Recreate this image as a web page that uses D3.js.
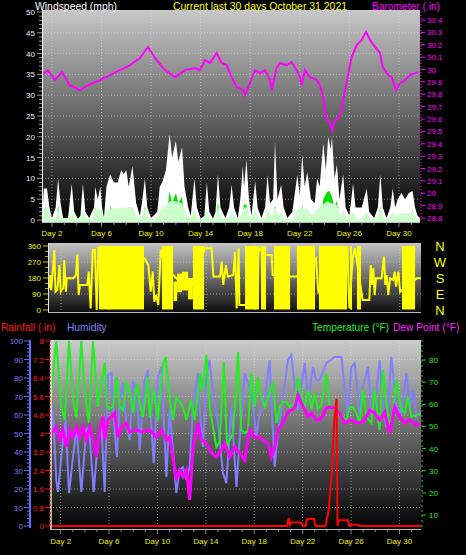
<!DOCTYPE html>
<html><head><meta charset="utf-8">
<script src="https://cdn.jsdelivr.net/npm/d3@7"></script>
<style>body{margin:0;background:#000}svg{display:block}text{font-family:"Liberation Sans",Arial,sans-serif}</style>
</head><body><svg id="c" width="466" height="555"></svg>
<script>
// ---------- DATA ----------
const dayTicks = [2,6,10,14,18,22,26,30];
const windTicks = [0,5,10,15,20,25,30,35,40,45,50];
const baroTicks = [28.8,28.9,29.0,29.1,29.2,29.3,29.4,29.5,29.6,29.7,29.8,29.9,30.0,30.1,30.2,30.3,30.4];
const dirTicks = [0,90,180,270,360];
const compass = ["N","W","S","E","N"];
const humTicks = [0,10,20,30,40,50,60,70,80,90,100];
const rainTicks = [0,0.8,1.6,2.4,3.2,4,4.8,5.6,6.4,7.2,8];
const tempTicks = [10,20,30,40,50,60,70,80];

// wind gust (mph) [day, value]
const gust = [[1.2,0],[1.35,7.6],[1.6,7.6],[1.8,3],[2.0,0.5],[2.3,3],[2.5,10],[2.7,4],[2.9,0.5],[3.3,0.5],[3.6,8.7],[3.8,2],[4.1,0.3],[4.3,1],[4.5,8.7],[4.7,2],[5.0,0.5],[5.4,3],[5.5,8],[5.7,5],[5.9,8],[6.05,3],[6.2,0.5],[6.4,8],[6.7,11],[7.0,9],[7.3,9],[7.6,12],[7.8,11],[8.0,12],[8.2,8],[8.5,13],[8.8,4],[9.1,1],[9.3,5],[9.5,10],[9.7,3],[10.0,0.5],[10.5,2],[10.7,8],[10.9,9],[11.2,12],[11.5,20.6],[11.7,15],[12.0,19],[12.2,14],[12.5,17.5],[12.7,8],[13.0,3],[13.2,1],[13.5,10],[13.7,3],[14.0,0.3],[14.3,1],[14.5,9],[14.7,2],[15.0,0.3],[15.2,2],[15.4,11],[15.6,3],[16.0,0.5],[16.3,3],[16.5,8.5],[16.7,3],[17.0,0.5],[17.2,5],[17.4,13],[17.5,8],[17.7,14.5],[17.9,5],[18.1,1],[18.4,9.4],[18.6,3],[18.9,0.5],[19.2,3],[19.4,10.8],[19.6,4],[19.85,5],[20.0,18.9],[20.2,5],[20.5,8.5],[20.7,3],[21.0,0.5],[21.4,2],[21.8,10.9],[22.0,6],[22.2,15.7],[22.4,8],[22.6,11.6],[22.9,5],[23.2,4],[23.4,10],[23.6,8],[23.9,18.5],[24.1,12],[24.3,20],[24.5,17],[24.6,20],[24.8,10],[25.0,13.3],[25.2,5],[25.5,11],[25.7,3],[26.0,1],[26.3,8.8],[26.5,3],[26.8,3],[27.0,3],[27.4,7.6],[27.6,2],[28.0,0.5],[28.3,3],[28.5,11],[28.7,3],[29.0,0.5],[29.3,3],[29.5,7.6],[29.7,3],[29.9,5],[30.2,6.5],[30.5,5],[30.8,6.5],[31.1,7],[31.3,3],[31.5,1],[31.7,0.5]];
// wind speed (mph) - only its peaks rise above the average area
const speed = [[1.2,0],[1.3,0],[1.45,3.3],[1.6,0],[2.35,0],[2.5,3.6],[2.65,0],[5.4,0],[5.5,3.2],[5.6,0],[6.6,0],[6.75,3.6],[6.9,0],[9.35,0],[9.5,3.4],[9.65,0],[11.2,0],[11.5,7],[11.7,4],[12.0,6.5],[12.2,4],[12.5,5.6],[12.7,0],[15.25,0],[15.4,4.4],[15.55,0],[17.3,0],[17.5,3.8],[17.7,3.6],[17.85,0],[19.9,0],[20.0,3.8],[20.15,0],[22.05,0],[22.2,3.5],[22.35,0],[23.7,0],[23.9,5],[24.2,6.8],[24.4,7],[24.6,5.5],[24.8,3],[25.0,4.6],[25.15,0],[28.35,0],[28.5,3.5],[28.65,0],[31.0,0],[31.1,2.6],[31.2,0],[31.7,0]];
// average wind (mph)
const avgWind = [[1.2,0],[1.4,2.5],[1.7,2.5],[1.9,0.3],[2.3,0.3],[2.5,2.8],[2.8,0.3],[3.4,0.3],[3.6,2.3],[3.9,0.2],[4.3,0.2],[4.5,2.3],[4.8,0.2],[5.3,0.3],[5.5,2.6],[6.0,2.5],[6.2,0.3],[6.5,2.5],[7.0,2.8],[7.5,2.8],[8.0,3],[8.5,3.2],[8.9,0.3],[9.3,1],[9.5,2.8],[9.8,0.3],[10.4,0.2],[10.7,2.2],[11.0,2.8],[11.5,4.5],[12.0,4.5],[12.5,4],[12.8,1.5],[13.2,0.2],[13.5,2.5],[13.8,0.2],[14.3,0.2],[14.5,2.5],[14.8,0.2],[15.2,0.2],[15.4,3.2],[15.7,0.3],[16.3,0.3],[16.5,2.2],[16.8,0.2],[17.2,0.8],[17.5,3],[17.8,3],[18.0,0.3],[18.4,2.5],[18.7,0.2],[19.2,0.3],[19.4,2.5],[19.7,0.8],[20.0,3],[20.3,1],[20.5,2],[20.8,0.2],[21.5,0.2],[21.8,2.5],[22.2,2.8],[22.6,2.6],[23.0,1.2],[23.4,2.6],[23.8,3.5],[24.2,4.5],[24.6,4],[25.0,3.5],[25.3,0.8],[25.5,2.5],[25.8,0.2],[26.3,2],[26.6,0.2],[27.0,0.3],[27.4,2],[27.7,0.2],[28.2,0.2],[28.5,2.8],[28.8,0.2],[29.2,0.2],[29.5,2],[29.8,0.8],[30.2,1.6],[30.8,1.6],[31.1,2],[31.4,0.4],[31.7,0]];
// barometer (in)
const baro = [[1.19,29.955],[1.68,29.995],[2.24,29.914],[2.81,29.979],[3.45,29.873],[4.26,29.833],[5.07,29.881],[5.87,29.914],[6.68,29.955],[7.49,29.995],[8.30,30.036],[9.10,30.093],[9.75,30.182],[10.31,30.093],[11.12,29.995],[11.93,29.938],[12.73,29.995],[13.54,30.011],[13.94,29.995],[14.35,30.076],[14.75,30.052],[15.29,30.133],[15.70,30.052],[16.10,30.036],[16.50,29.938],[16.91,29.857],[17.44,29.833],[17.58,29.792],[17.98,29.889],[18.38,29.995],[18.79,29.971],[19.19,29.995],[19.60,29.914],[19.73,29.833],[20.13,30.011],[20.40,30.052],[20.94,30.036],[21.35,30.060],[21.75,29.995],[22.02,29.938],[22.15,29.873],[22.42,29.995],[22.82,29.938],[23.36,29.914],[23.63,29.873],[23.90,29.776],[24.11,29.613],[24.44,29.564],[24.62,29.507],[24.84,29.589],[25.11,29.605],[25.38,29.670],[25.65,29.833],[25.92,29.971],[26.19,30.101],[26.59,30.198],[27.00,30.239],[27.34,30.304],[27.67,30.239],[28.07,30.182],[28.47,30.133],[28.69,30.020],[29.14,29.955],[29.42,29.938],[29.76,29.833],[30.09,29.889],[30.49,29.914],[30.89,29.955],[31.30,29.971],[31.56,29.979]];
// wind direction: spans of variable direction [dayStart, dayEnd, lowDeg, highDeg]
const dirBlocks = [[5.14,8.86,3,360],[10.35,11.26,3,360],[11.3,11.6,50,160],[11.6,12.0,100,205],[12.0,12.5,110,215],[12.5,12.9,60,180],[12.91,13.82,3,360],[17.21,18.36,3,360],[18.53,18.94,3,360],[19.60,20.93,3,360],[21.50,22.99,3,360],[23.32,25.64,3,360],[25.88,26.05,3,360],[26.46,26.79,3,360],[30.18,31.26,3,360]];
// wind direction trace [day, degrees]
const dirTrace = [[1.09,122],[1.12,197],[1.19,112],[1.36,253],[1.45,337],[1.54,103],[1.70,112],[1.87,253],[1.98,103],[2.05,112],[2.19,122],[2.27,281],[2.41,103],[2.47,178],[3.02,178],[3.24,197],[3.35,313],[3.46,84],[3.57,141],[4.17,141],[4.29,216],[4.45,9],[4.62,337],[4.81,337],[4.95,0],[5.1,347],[8.91,290],[9.22,253],[9.41,103],[9.58,216],[9.71,47],[9.85,84],[10.04,28],[10.24,337],[10.8,200],[11.28,197],[11.8,160],[12.9,150],[13.88,347],[14.45,347],[14.59,188],[15.14,188],[15.28,272],[15.41,141],[15.63,253],[15.78,188],[16.24,197],[16.38,328],[16.52,9],[16.68,347],[16.74,28],[17.35,28],[18.39,347],[19.0,310],[19.41,310],[19.49,197],[20.98,188],[21.48,188],[23.07,290],[23.26,103],[25.67,347],[25.83,9],[26.1,290],[26.3,347],[26.93,56],[27.48,56],[27.6,253],[27.7,141],[27.81,234],[27.92,84],[28.03,178],[28.5,178],[28.58,234],[28.69,300],[28.8,141],[28.91,197],[29.05,84],[29.19,178],[29.46,169],[29.57,216],[29.69,131],[29.88,216],[30.02,103],[31.39,178],[31.73,178]];
// temperature (F)
const temp = [[1.12,60],[1.23,66.5],[1.64,88.5],[2.06,58.8],[2.33,52.9],[2.69,88.5],[3.02,62],[3.30,54],[3.71,88.5],[3.98,66.5],[4.34,51.5],[4.67,88.5],[5.08,58.8],[5.22,65],[5.64,78.6],[5.83,58.8],[6.05,58],[6.32,58.8],[6.65,72.3],[6.88,58.8],[7.15,57.4],[7.43,69.6],[7.70,66.5],[7.98,56],[8.31,69.6],[8.53,60.6],[8.80,54.3],[9.21,72.3],[9.36,54],[9.69,66.5],[10.04,52.9],[10.45,77.7],[10.68,81.4],[11.01,62],[11.28,52.9],[11.56,63.3],[12.11,58.8],[12.39,52.9],[12.80,62],[13.07,52.9],[13.55,74],[13.76,66.5],[14.04,82.3],[14.31,58.8],[14.87,40.7],[15.14,43],[15.48,79],[15.75,41],[15.97,43.9],[16.25,47],[16.66,83.6],[16.93,48.4],[17.21,47],[17.48,48],[17.76,74],[18.03,58.8],[18.31,72.3],[18.59,62.8],[18.86,58.8],[19.27,65],[19.55,70],[19.83,51.5],[20.10,58.8],[20.37,61],[20.65,61],[20.93,58.8],[21.34,60.6],[21.61,72.3],[21.89,65],[22.17,58.8],[22.45,66.5],[22.72,58],[22.99,65],[23.26,58],[23.54,59.7],[23.96,74],[24.23,58.8],[24.50,58.8],[24.79,56],[25.06,56.5],[25.33,54.3],[25.61,52.9],[25.88,58.8],[26.16,58.8],[26.44,56],[26.71,51.5],[26.98,66.5],[27.26,54.3],[27.68,51.5],[27.95,66.5],[28.36,48.4],[28.64,75.5],[28.92,60.6],[29.19,49.7],[29.50,58.8],[29.74,71],[30.16,57.4],[30.43,56],[30.71,63.3],[30.98,54.3],[31.40,55],[31.75,56]];
// humidity (%)
const hum = [[1.12,45],[1.36,62.7],[1.64,24.9],[1.78,18.4],[2.19,46.5],[2.41,57.3],[2.69,17.8],[3.02,37.3],[3.30,53.5],[3.71,18.4],[4.12,51.9],[4.34,53.5],[4.73,18.4],[5.08,46.5],[5.36,55.7],[5.64,18.4],[5.91,81.6],[6.19,82.7],[6.46,51.9],[6.65,37.3],[6.88,68],[7.15,77.3],[7.43,55.7],[7.70,46.5],[7.98,77.3],[8.31,73.5],[8.53,41],[8.94,78.9],[9.21,84.3],[9.50,53.5],[9.69,34],[10.04,80.5],[10.32,86],[10.60,46.5],[10.74,26.5],[11.01,64.3],[11.56,17.8],[11.83,30.3],[12.11,31.9],[12.39,24.9],[12.66,31.9],[12.93,64.3],[13.35,82.7],[13.55,59],[13.76,42.7],[14.04,80.5],[14.31,89.7],[14.59,71.9],[15.00,55.7],[15.41,28.6],[15.69,23.2],[16.11,64.3],[16.53,21.1],[16.79,46.5],[17.21,82.7],[17.62,75.1],[17.89,66.5],[18.17,48.1],[18.45,61],[18.86,68],[19.27,89.7],[19.55,50.3],[19.69,31.9],[19.96,50.3],[20.24,64.3],[20.79,89.7],[21.07,92.4],[21.34,75.1],[21.61,62.7],[22.17,88],[22.45,68],[22.85,86],[23.13,78.9],[23.40,78.9],[23.96,88],[24.64,91.4],[25.20,91.4],[25.47,75.1],[25.74,59],[26.02,86],[26.30,88],[26.71,59],[26.98,75.1],[27.40,86],[27.68,59],[28.09,71.9],[28.36,89.7],[28.64,64.3],[28.92,53.5],[29.33,91.4],[29.74,64.3],[30.16,61],[30.57,82.7],[30.84,64.3],[31.12,73.5],[31.40,59],[31.75,62]];
// dew point (F)
const dew = [[1.12,45],[1.23,47],[1.64,49.7],[1.92,43.9],[2.19,48.4],[2.47,40.7],[2.74,48.4],[3.02,45.2],[3.30,49.7],[3.57,45.2],[3.84,49.7],[4.12,43.9],[4.40,49.7],[4.67,43.9],[4.95,36.2],[5.22,48.4],[5.50,54.3],[5.64,43.9],[5.91,52.9],[6.46,56],[6.74,45.2],[7.02,49.7],[7.43,51.5],[7.70,47.5],[8.26,48.4],[8.80,47.5],[9.36,48.4],[9.91,45.2],[10.32,48.4],[10.74,43.9],[11.01,45.2],[11.28,36.2],[11.56,25.8],[11.83,30.3],[12.11,27.2],[12.39,30.3],[12.66,16.8],[12.93,39.4],[13.35,51.5],[13.63,43.9],[14.04,42.5],[14.45,38],[14.87,36.2],[15.28,39.4],[15.55,42.5],[15.97,36.2],[16.39,40.7],[16.79,38],[17.21,34.8],[17.62,48.4],[18.03,45.2],[18.45,45.2],[18.72,43.9],[19.13,42.5],[19.41,36.2],[19.69,40.7],[19.96,48.4],[20.37,51.5],[20.79,56.5],[21.07,57.4],[21.34,58.3],[21.61,64.2],[21.89,60.6],[22.17,57.4],[22.45,54.3],[22.72,56],[23.13,52.9],[23.40,52.9],[23.68,55.2],[23.96,58.3],[24.23,58.8],[24.64,58.3],[25.06,56],[25.47,51.5],[25.88,52.9],[26.30,52],[26.71,51.5],[27.12,52.9],[27.54,57.4],[27.95,56],[28.36,52.9],[28.78,56.5],[29.19,47],[29.60,58.8],[30.02,54.3],[30.43,51.5],[30.84,52.9],[31.40,50.6],[31.75,51]];
// rainfall (in)
const rain = [[1.12,0],[20.7,0],[20.85,0.35],[20.95,0.05],[21.05,0.15],[21.9,0.15],[22.0,0],[22.25,0],[22.35,0.3],[22.95,0.3],[23.05,0],[23.9,0],[24.15,0.7],[24.4,2.3],[24.6,4.5],[24.8,5.5],[24.88,0],[24.95,0.25],[25.75,0.25],[25.85,0],[26.0,0.05],[26.6,0.05],[26.7,0],[31.78,0]];

// ---------- DRAW ----------
const svg = d3.select("#c");
const defs = svg.append("defs");
function grad(id, c0, c1){
  const g = defs.append("linearGradient").attr("id",id).attr("x1",0).attr("y1",0).attr("x2",0).attr("y2",1);
  g.append("stop").attr("offset","0%").attr("stop-color",c0);
  g.append("stop").attr("offset","100%").attr("stop-color",c1);
}
grad("gTop","#c8c8c8","#000000");
grad("gMid","#c4c4c4","#0c0c0c");
grad("gBot","#cccccc","#000000");
function panel(id,x0,y0,x1,y1,g){
  defs.append("clipPath").attr("id",id).append("rect").attr("x",x0).attr("y",y0).attr("width",x1-x0).attr("height",y1-y0);
  svg.append("rect").attr("x",x0).attr("y",y0).attr("width",x1-x0).attr("height",y1-y0).attr("fill","url(#"+g+")");
  return svg.append("g").attr("clip-path","url(#"+id+")");
}
function txt(x,y,s,col,size,anchor,len){
  const t = svg.append("text").attr("x",x).attr("y",y).text(s).attr("fill",col).attr("font-size",size).attr("text-anchor",anchor||"start");
  if(len) t.attr("textLength",len).attr("lengthAdjust","spacingAndGlyphs");
  return t;
}
const grid = "rgba(225,225,225,0.55)";

// ===== TOP PANEL =====
const xT = d3.scaleLinear().domain([1.2,31.7]).range([42,420]);
const yW = d3.scaleLinear().domain([0,50]).range([220,12]);
const yP = d3.scaleLinear().domain([28.8,30.4]).range([218,20]);
const gT = panel("cT",42,10,420,223,"gTop");
windTicks.slice(1,-1).forEach(v=>gT.append("line").attr("x1",42).attr("x2",420).attr("y1",yW(v)).attr("y2",yW(v)).attr("stroke",grid).attr("stroke-dasharray","1,2"));
dayTicks.forEach(d=>gT.append("line").attr("x1",xT(d)).attr("x2",xT(d)).attr("y1",10).attr("y2",223).attr("stroke",grid).attr("stroke-dasharray","1,2"));
gT.append("line").attr("x1",42).attr("x2",420).attr("y1",220).attr("y2",220).attr("stroke","#000").attr("stroke-width",1.2);
const areaW = d3.area().x(d=>xT(d[0])).y0(223).y1(d=>yW(d[1]));
gT.append("path").datum(gust).attr("d",areaW).attr("fill","#ffffff");
gT.append("path").datum(speed).attr("d",areaW).attr("fill","#00e000");
gT.append("path").datum(avgWind).attr("d",areaW).attr("fill","#ccffcc");
gT.append("path").datum(baro).attr("d",d3.line().x(d=>xT(d[0])).y(d=>yP(d[1]))).attr("fill","none").attr("stroke","#ff00ff").attr("stroke-width",2);
// frame
svg.append("line").attr("x1",42.5).attr("x2",42.5).attr("y1",10).attr("y2",223).attr("stroke","#f4f4f4");
svg.append("line").attr("x1",42).attr("x2",420).attr("y1",222.5).attr("y2",222.5).attr("stroke","#bbbbbb");
// left axis
d3.range(0,51).forEach(v=>svg.append("line").attr("x1",v%5===0?37:39).attr("x2",42).attr("y1",yW(v)).attr("y2",yW(v)).attr("stroke","#9a9a9a"));
windTicks.forEach(v=>txt(35,yW(v)+3,v,"#e8eeff","8px","end"));
// right axis
svg.append("line").attr("x1",421).attr("x2",421).attr("y1",12).attr("y2",222).attr("stroke","#ff00ff").attr("stroke-dasharray","1,2");
baroTicks.forEach(v=>{svg.append("line").attr("x1",421).attr("x2",425).attr("y1",yP(v)).attr("y2",yP(v)).attr("stroke","#ff00ff");
  txt(427,yP(v)+3,v.toFixed(v===30||v===29?0:1),"#ff00ff","8px","start");});
// bottom day ticks
d3.range(2,32).forEach(d=>svg.append("line").attr("x1",xT(d)).attr("x2",xT(d)).attr("y1",223).attr("y2",dayTicks.includes(d)?227:225).attr("stroke","#888"));
dayTicks.forEach(d=>txt(xT(d),236,"Day "+d,"#f0f000","8px","middle"));
// headers
txt(35,9.5,"Windspeed (mph)","#ffffff","11px","start",82);
txt(173,9.5,"Current last 30 days October 31 2021","#ffff00","11px","start",174);
txt(372,9.5,"Barometer (.in)","#ff00ff","11px","start",68);

// ===== MIDDLE PANEL =====
const xM = d3.scaleLinear().domain([0.926,31.75]).range([48,421]);
const yD = d3.scaleLinear().domain([0,360]).range([310,246]);
const gM = panel("cM",48,243,421,313,"gMid");
[90,180,270].forEach(v=>gM.append("line").attr("x1",48).attr("x2",421).attr("y1",yD(v)).attr("y2",yD(v)).attr("stroke",grid).attr("stroke-dasharray","1,2"));
dayTicks.forEach(d=>gM.append("line").attr("x1",xM(d)).attr("x2",xM(d)).attr("y1",243).attr("y2",313).attr("stroke",grid).attr("stroke-dasharray","1,2"));
gM.append("path").datum(dirTrace).attr("d",d3.line().x(d=>xM(d[0])).y(d=>yD(d[1]))).attr("fill","none").attr("stroke","#ffff00").attr("stroke-width",2);
gM.selectAll("rect.b").data(dirBlocks).enter().append("rect").attr("x",d=>xM(d[0])).attr("width",d=>xM(d[1])-xM(d[0])).attr("y",d=>yD(d[3])).attr("height",d=>yD(d[2])-yD(d[3])).attr("fill","#ffff00");
svg.append("line").attr("x1",48.5).attr("x2",48.5).attr("y1",243).attr("y2",313).attr("stroke","#e8e8e8");
svg.append("line").attr("x1",48).attr("x2",421).attr("y1",312.5).attr("y2",312.5).attr("stroke","#bbbbbb");
d3.range(0,361,30).forEach(v=>svg.append("line").attr("x1",v%90===0?43:45).attr("x2",48).attr("y1",yD(v)).attr("y2",yD(v)).attr("stroke","#cccc00"));
dirTicks.forEach(v=>txt(41,yD(v)+3,v,"#f0f000","8px","end"));
compass.forEach((c,i)=>txt(440,yD(dirTicks[4-i])+5,c,"#ffff00","13px","middle"));

// ===== BOTTOM PANEL =====
const xB = d3.scaleLinear().domain([1.12,31.78]).range([50,421]);
const yH = d3.scaleLinear().domain([0,100]).range([526,341]);
const yR = d3.scaleLinear().domain([0,8]).range([526,341]);
const yTp = d3.scaleLinear().domain([10,80]).range([515,360]);
const gB = panel("cB",50,340,421,530,"gBot");
humTicks.slice(1,-1).forEach(v=>gB.append("line").attr("x1",50).attr("x2",421).attr("y1",yH(v)).attr("y2",yH(v)).attr("stroke",grid).attr("stroke-dasharray","1,2"));
dayTicks.forEach(d=>gB.append("line").attr("x1",xB(d)).attr("x2",xB(d)).attr("y1",340).attr("y2",530).attr("stroke",grid).attr("stroke-dasharray","1,2"));
const lineOf = ys => d3.line().x(d=>xB(d[0])).y(d=>ys(d[1]));
gB.append("path").datum(hum).attr("d",lineOf(yH)).attr("fill","none").attr("stroke","#8080ff").attr("stroke-width",2);
gB.append("path").datum(temp).attr("d",lineOf(yTp)).attr("fill","none").attr("stroke","#22ee22").attr("stroke-width",2);
gB.append("path").datum(dew).attr("d",lineOf(yTp)).attr("fill","none").attr("stroke","#ff00ff").attr("stroke-width",3);
gB.append("path").datum(rain).attr("d",lineOf(yR)).attr("fill","none").attr("stroke","#ff0000").attr("stroke-width",2);
svg.append("line").attr("x1",51).attr("x2",51).attr("y1",340).attr("y2",530).attr("stroke","#e8e8e8").attr("stroke-width",1.5);
svg.append("line").attr("x1",50).attr("x2",421).attr("y1",529.5).attr("y2",529.5).attr("stroke","#bbbbbb");
// humidity axis
svg.append("line").attr("x1",30).attr("x2",30).attr("y1",340).attr("y2",528).attr("stroke","#6a6aff").attr("stroke-width",2);
d3.range(0,101,2).forEach(v=>svg.append("line").attr("x1",v%10===0?24:27).attr("x2",30).attr("y1",yH(v)).attr("y2",yH(v)).attr("stroke","#6a6aff"));
humTicks.forEach(v=>txt(23,yH(v)+3,v,"#7777ff","8px","end"));
// rain axis
svg.append("line").attr("x1",50).attr("x2",50).attr("y1",340).attr("y2",528).attr("stroke","#ff0000").attr("stroke-dasharray","2,2");
rainTicks.forEach(v=>{svg.append("line").attr("x1",45).attr("x2",50).attr("y1",yR(v)).attr("y2",yR(v)).attr("stroke","#ff0000");
  txt(44,yR(v)+3,v,"#ff1a1a","8px","end");});
// temperature axis
svg.append("line").attr("x1",422).attr("x2",422).attr("y1",340).attr("y2",530).attr("stroke","#22cc22").attr("stroke-dasharray","2,3");
tempTicks.forEach(v=>{svg.append("line").attr("x1",422).attr("x2",426).attr("y1",yTp(v)).attr("y2",yTp(v)).attr("stroke","#22cc22");
  txt(429,yTp(v)+3,v,"#22ee22","8px","start");});
// day ticks
d3.range(2,32).forEach(d=>svg.append("line").attr("x1",xB(d)).attr("x2",xB(d)).attr("y1",530).attr("y2",dayTicks.includes(d)?534:532).attr("stroke","#888"));
dayTicks.forEach(d=>txt(xB(d),544,"Day "+d,"#f0f000","8px","middle"));
// headers
txt(1,331,"Rainfall (.in)","#ff1a1a","10.2px","start");
txt(67,331,"Humidity","#8080ff","10.2px","start");
txt(312,331,"Temperature (°F)","#22ee22","10.2px","start");
txt(393,331,"Dew Point (°F)","#ff22ff","10.2px","start");
</script></body></html>
